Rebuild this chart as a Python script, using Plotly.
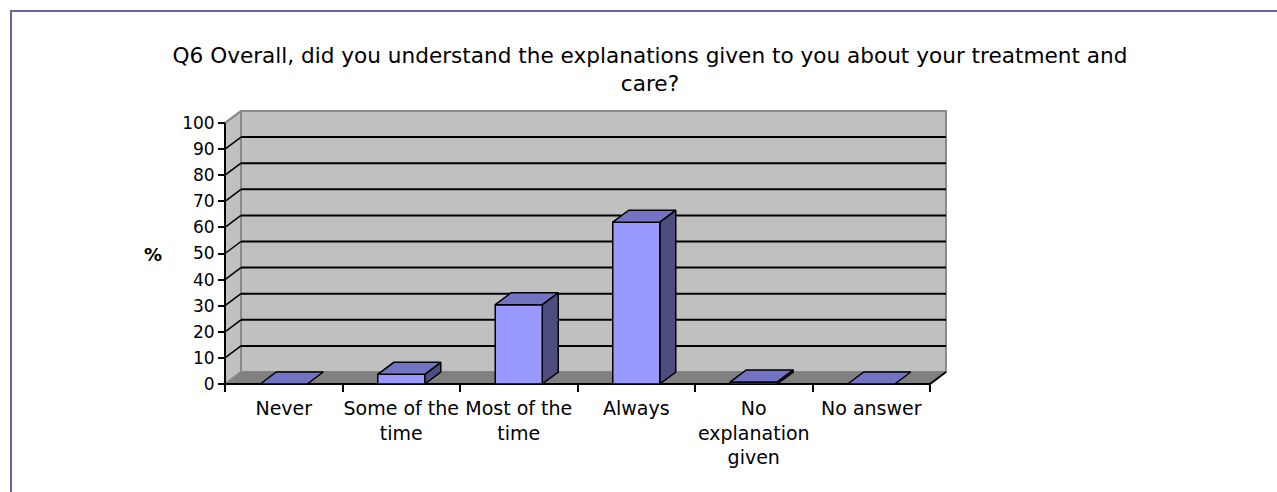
import plotly.graph_objects as go

# Survey responses (% of respondents)
categories = ["Never", "Some of the<br>time", "Most of the<br>time", "Always",
              "No<br>explanation<br>given", "No answer"]
percent = [0, 3.7, 30.4, 62, 0.8, 0]
y_ticks = list(range(0, 101, 10))
title_text = ("Q6 Overall, did you understand the explanations given to you about your treatment and"
              "<br>care?")

# ---- page / projection geometry (pixels) ----
W, H = 1277, 492
CAT_PX = 117.5          # width of one category on the front plane
UNIT_PX = 2.61          # pixels per percentage point
FRONT_LEFT = 225        # x of the front value axis
FRONT_ZERO = 384        # y of the front floor edge
DEPTH_X, DEPTH_Y = 16, 12   # receding offset of the back wall
PAD = 20

n = len(categories)
dx = DEPTH_X / CAT_PX           # depth offset in category units
dy = DEPTH_Y / UNIT_PX          # depth offset in value units
half = 0.2                      # half bar width (category units)

x_lo = -0.5 - PAD / CAT_PX
x_hi = n - 0.5 + dx + PAD / CAT_PX
y_lo = -PAD / UNIT_PX
y_hi = 100 + dy + PAD / UNIT_PX

plot_l = FRONT_LEFT - PAD
plot_r = plot_l + (x_hi - x_lo) * CAT_PX
plot_b = FRONT_ZERO + PAD
plot_t = plot_b - (y_hi - y_lo) * UNIT_PX
plot_w = plot_r - plot_l
plot_h = plot_b - plot_t


def px_x(p):
    return (p - plot_l) / plot_w


def px_y(p):
    return (plot_b - p) / plot_h


WALL = "#c0c0c0"
FLOOR = "#808080"
EDGE = "#8a8a8a"
FRONT = "#9999ff"
TOP = "#7373c4"
SIDE = "#4d4d80"

fig = go.Figure()


def poly(xs, ys, fill, line_color="black", width=1.5):
    fig.add_trace(go.Scatter(
        x=xs + [xs[0]], y=ys + [ys[0]], mode="lines", fill="toself",
        fillcolor=fill, line=dict(color=line_color, width=width),
        hoverinfo="skip", showlegend=False))


def seg(xs, ys, color="black", width=2):
    fig.add_trace(go.Scatter(
        x=xs, y=ys, mode="lines", line=dict(color=color, width=width),
        hoverinfo="skip", showlegend=False))


left, right = -0.5, n - 0.5
top = y_ticks[-1]

# walls and floor
poly([left + dx, right + dx, right + dx, left + dx], [dy, dy, top + dy, top + dy], WALL, EDGE, 2)
poly([left, left + dx, left + dx, left], [0, dy, top + dy, top], WALL, EDGE, 2)
poly([left, right, right + dx, left + dx], [0, 0, dy, dy], FLOOR, FLOOR, 1)

# gridlines on back wall and side wall
for v in y_ticks[1:-1]:
    seg([left + dx, right + dx], [v + dy, v + dy], "black", 2)
    seg([left, left + dx], [v, v + dy], "black", 1.5)
seg([left, left + dx], [top, top + dy], EDGE, 2)
seg([left, left + dx], [0, dy], EDGE, 1.5)

# front axis edges
seg([left, left], [0, top], "black", 2)
seg([left, right, right + dx], [0, 0, dy], "black", 2)

# 3-D bars
for i, v in enumerate(percent):
    x0, x1 = i - half, i + half
    if v > 0:
        poly([x1, x1 + dx, x1 + dx, x1], [0, dy, v + dy, v], SIDE)
        poly([x0, x1, x1, x0], [0, 0, v, v], FRONT)
    poly([x0, x1, x1 + dx, x0 + dx], [v, v, v + dy, v + dy], TOP)

font = "DejaVu Sans, Liberation Sans, sans-serif"

fig.update_layout(
    width=W, height=H, autosize=False,
    margin=dict(l=plot_l, r=W - plot_r, t=plot_t, b=H - plot_b, pad=0),
    paper_bgcolor="white", plot_bgcolor="rgba(0,0,0,0)",
    font=dict(family=font, color="black"),
    title=dict(text=title_text, x=650 / W, xanchor="center", xref="container",
               y=1 - 63 / H, yanchor="top", yref="container",
               font=dict(size=21.6, color="black", family=font)),
    xaxis=dict(range=[x_lo, x_hi], showgrid=False, zeroline=False, showline=False,
               anchor="free", position=px_y(FRONT_ZERO),
               tickmode="array", tickvals=[k - 0.5 for k in range(n + 1)],
               ticktext=[""] * (n + 1), ticks="outside", ticklen=7, tickwidth=2,
               tickcolor="black", fixedrange=True),
    xaxis2=dict(range=[x_lo, x_hi], overlaying="x", side="bottom", showgrid=False,
                zeroline=False, showline=False, anchor="free", position=px_y(FRONT_ZERO),
                tickmode="array", tickvals=list(range(n)), ticktext=categories,
                ticks="", ticklabelstandoff=11,
                tickfont=dict(size=19, color="black", family=font), fixedrange=True),
    yaxis=dict(range=[y_lo, y_hi], showgrid=False, zeroline=False, showline=False,
               anchor="free", position=px_x(FRONT_LEFT),
               tickmode="array", tickvals=y_ticks, ticks="outside", ticklen=7,
               tickwidth=2, tickcolor="black",
               tickfont=dict(size=17, color="black", family=font), fixedrange=True),
    shapes=[dict(type="rect", xref="paper", yref="paper",
                 x0=px_x(11), x1=px_x(W + 20), y0=px_y(11), y1=px_y(H + 20),
                 line=dict(color="#666699", width=2), fillcolor="rgba(0,0,0,0)",
                 layer="above")],
    annotations=[dict(text="<b>%</b>", xref="paper", yref="paper",
                      x=px_x(153), y=px_y(255), xanchor="center", yanchor="middle",
                      showarrow=False,
                      font=dict(size=18, color="black", family=font))],
)

# invisible point so the label axis is rendered
fig.add_trace(go.Scatter(x=[0], y=[0], xaxis="x2", mode="markers",
                         marker=dict(opacity=0), hoverinfo="skip", showlegend=False))

fig.write_html("out.html")
